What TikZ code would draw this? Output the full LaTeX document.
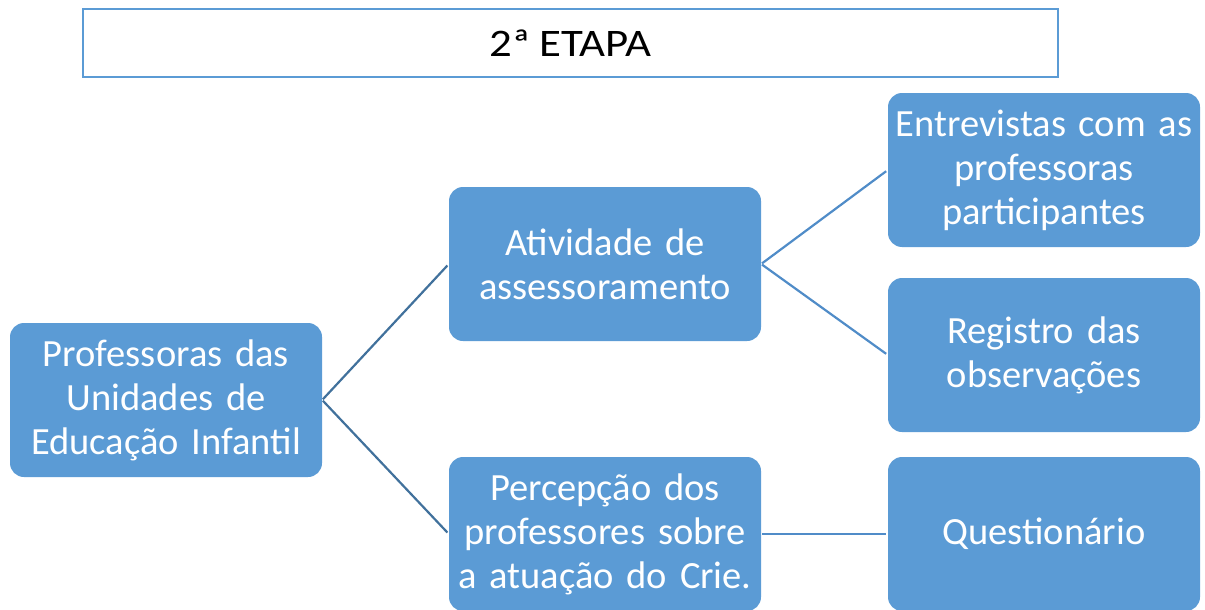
\documentclass[tikz,border=0pt]{standalone}
\usepackage{fontspec}
\setmainfont{Carlito}[WordSpace=0.85]
\usetikzlibrary{positioning}
\definecolor{BoxB}{RGB}{91,155,213}
\definecolor{LineD}{RGB}{65,113,156}
\definecolor{LineL}{RGB}{80,140,200}

\begin{document}
\begin{tikzpicture}[x=1pt, y=-1pt,
  item/.style={fill=BoxB, rounded corners=14pt, minimum width=312pt,
               minimum height=154pt, text width=306pt, align=center,
               text=white, font=\fontsize{38.5}{44}\selectfont, inner sep=0pt},
  headbox/.style={draw=BoxB, line width=1.5pt, minimum width=975pt,
                  minimum height=68pt, inner sep=0pt,
                  font=\fontsize{39}{44}\selectfont},
  link/.style={draw=#1, line width=2.2pt, shorten <=1pt, shorten >=2pt}
]
\useasboundingbox (0,0) rectangle (1205,610);

% Heading
\node[headbox] (etapa) at (570.5,43) {\scalebox{1.15}[1]{2ª ETAPA}};

% Boxes
\node[item] (prof)  at (166,400) {Professoras das\\Unidades de\\Educação Infantil};
\node[item] (ativ)  at (605,264) {Atividade de\\assessoramento};
\node[item] (perc)  at (605,534) {Percepção dos\\professores sobre\\a atuação do Crie.};
\node[item] (entr)  at (1044,170) {Entrevistas com as\\professoras\\participantes};
\node[item] (regi)  at (1044,355) {Registro das\\observações};
\node[item] (quest) at (1044,534) {Questionário};

% Links
\draw[link=LineD] (prof.east) -- (ativ.west);
\draw[link=LineD] (prof.east) -- (perc.west);
\draw[link=LineL] (ativ.east) -- (entr.west);
\draw[link=LineL] (ativ.east) -- (regi.west);
\draw[link=LineL] (perc.east) -- (quest.west);
\end{tikzpicture}
\end{document}
